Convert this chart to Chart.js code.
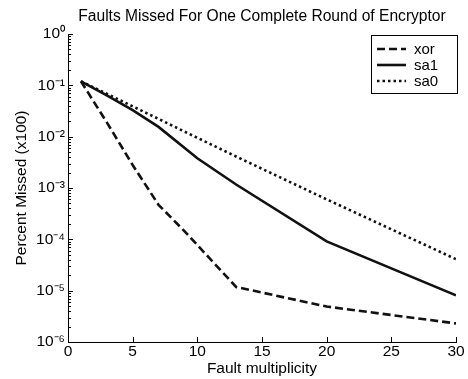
<!DOCTYPE html>
<html>
<head>
<meta charset="utf-8">
<script src="https://cdn.jsdelivr.net/npm/chart.js@4/dist/chart.umd.min.js"></script>
<style>
html,body{margin:0;padding:0;background:#fff;}
canvas{display:block;}
</style>
</head>
<body>
<canvas id="c" width="468" height="379"></canvas>
<script>
// ---- data ----
const seriesNames = ['xor', 'sa1', 'sa0'];
const xorX = [1, 3, 5, 7, 9, 13, 20, 30];
const xorY = [0.12, 0.019, 0.0028, 0.00047, 0.000145, 0.0000118, 0.0000049, 0.0000023];
const sa1X = [1, 3, 5, 7, 10, 13, 20, 30];
const sa1Y = [0.12, 0.064, 0.033, 0.0155, 0.0038, 0.00117, 0.000091, 0.0000081];
const sa0X = [1, 5, 10, 13, 20, 30];
const sa0Y = [0.12, 0.039, 0.0095, 0.0041, 0.0006, 0.000041];
const yTickValues = [1, 0.1, 0.01, 0.001, 0.0001, 0.00001, 0.000001];
const yTickLabels = ['10\u2070', '10\u207B\u00B9', '10\u207B\u00B2', '10\u207B\u00B3', '10\u207B\u2074', '10\u207B\u2075', '10\u207B\u2076'];
const xTickValues = [0, 5, 10, 15, 20, 25, 30];
const titleText = 'Faults Missed For One Complete Round of Encryptor';
const xTitle = 'Fault multiplicity';
const yTitle = 'Percent Missed (x100)';

const FONT = "'Liberation Sans', Arial, Helvetica, sans-serif";
const FS = 15.5;
const pts = (xs, ys) => xs.map((x, i) => ({x: x, y: ys[i]}));

// title centred over the plot area (as in the reference)
const axesTitle = {
  id: 'axesTitle',
  afterDraw(chart) {
    const ctx = chart.ctx, a = chart.chartArea;
    ctx.save();
    ctx.fillStyle = '#000';
    ctx.font = '15.6px ' + FONT;
    ctx.textAlign = 'center';
    ctx.textBaseline = 'alphabetic';
    ctx.fillText(titleText, (a.left + a.right) / 2, a.top - 13);
    ctx.restore();
  }
};

const inwardTicks = {
  id: 'inwardTicks',
  afterDraw(chart) {
    const ctx = chart.ctx, a = chart.chartArea;
    const ys = chart.scales.y, xs = chart.scales.x;
    ctx.save();
    ctx.strokeStyle = '#000';
    ctx.lineWidth = 1;
    ctx.beginPath();
    for (let d = -6; d <= 0; d++) {
      for (let m = 1; m <= 9; m++) {
        const v = m * Math.pow(10, d);
        if (v > 1.0000001) break;
        const py = Math.round(ys.getPixelForValue(v)) + 0.5;
        const len = (m === 1) ? 5 : 3;
        ctx.moveTo(a.left, py);
        ctx.lineTo(a.left + len, py);
      }
    }
    xs.ticks.forEach(t => {
      const px = Math.round(xs.getPixelForValue(t.value)) + 0.5;
      ctx.moveTo(px, a.bottom);
      ctx.lineTo(px, a.bottom - 5);
    });
    ctx.stroke();
    ctx.restore();
  }
};

const boxLegend = {
  id: 'boxLegend',
  afterDatasetsDraw(chart) {
    const ctx = chart.ctx, a = chart.chartArea;
    const w = 86, h = 58;
    const bx = a.right + 1 - w, by = a.top + 1;
    ctx.save();
    ctx.fillStyle = '#fff';
    ctx.fillRect(bx, by, w, h);
    ctx.strokeStyle = '#000';
    ctx.lineWidth = 1;
    ctx.setLineDash([]);
    ctx.strokeRect(Math.round(bx) + 0.5, Math.round(by) + 0.5, w, h);
    chart.data.datasets.forEach((ds, i) => {
      const ry = by + 14 + i * 16;
      ctx.beginPath();
      ctx.strokeStyle = ds.borderColor;
      ctx.lineWidth = ds.borderWidth;
      ctx.setLineDash(ds.borderDash || []);
      ctx.moveTo(bx + 6, ry);
      ctx.lineTo(bx + 35, ry);
      ctx.stroke();
      ctx.setLineDash([]);
      ctx.fillStyle = '#000';
      ctx.font = '15px ' + FONT;
      ctx.textBaseline = 'middle';
      ctx.textAlign = 'left';
      ctx.fillText(ds.label, bx + 43, ry + 0.5);
    });
    ctx.restore();
  }
};

const mkDs = (label, xs, ys, dash) => ({
  label: label,
  data: pts(xs, ys),
  borderColor: '#111',
  backgroundColor: '#111',
  borderWidth: 2.6,
  borderDash: dash,
  borderCapStyle: 'butt',
  pointRadius: 0,
  tension: 0,
  fill: false
});

new Chart(document.getElementById('c'), {
  type: 'line',
  data: {
    datasets: [
      mkDs(seriesNames[0], xorX, xorY, [8, 4]),
      mkDs(seriesNames[1], sa1X, sa1Y, []),
      mkDs(seriesNames[2], sa0X, sa0Y, [2.5, 3])
    ]
  },
  options: {
    responsive: false,
    animation: false,
    devicePixelRatio: 1,
    layout: {padding: {left: 0, right: 12, top: 34, bottom: 0}},
    plugins: {
      legend: {display: false},
      tooltip: {enabled: false},
      title: {display: false}
    },
    scales: {
      x: {
        type: 'linear',
        min: 0, max: 30,
        afterBuildTicks: s => { s.ticks = xTickValues.map(v => ({value: v})); },
        afterFit: s => { s.height = 37; s.paddingLeft = 0; s.paddingRight = 0; },
        grid: {display: false, drawTicks: false},
        border: {display: true, color: '#000', width: 1},
        ticks: {color: '#000', font: {family: FONT, size: FS}, padding: 0, maxRotation: 0,
                callback: v => String(v)},
        title: {display: true, text: xTitle, color: '#000',
                font: {family: FONT, size: FS, lineHeight: 1.2}, padding: {top: 0, bottom: 1}}
      },
      y: {
        type: 'logarithmic',
        min: 1e-6, max: 1,
        afterBuildTicks: s => { s.ticks = yTickValues.map(v => ({value: v})); },
        afterFit: s => { s.width = 68; s.paddingTop = 0; s.paddingBottom = 0; },
        grid: {display: false, drawTicks: false},
        border: {display: true, color: '#000', width: 1},
        ticks: {color: '#000', font: {family: FONT, size: FS}, padding: 3,
                callback: (v) => { const i = yTickValues.findIndex(t => Math.abs(Math.log10(t) - Math.log10(v)) < 1e-6); return i >= 0 ? yTickLabels[i] : ''; }},
        title: {display: true, text: yTitle, color: '#000',
                font: {family: FONT, size: FS, lineHeight: 1.2}, padding: {top: 12, bottom: 0}}
      }
    }
  },
  plugins: [axesTitle, inwardTicks, boxLegend]
});
</script>
</body>
</html>
